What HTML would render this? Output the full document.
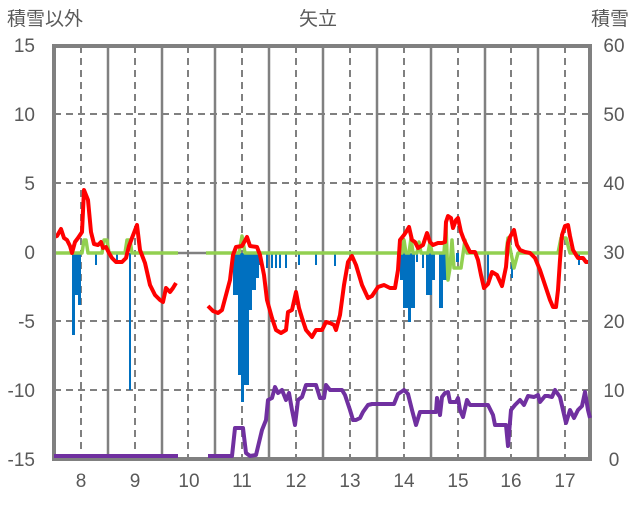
<!DOCTYPE html>
<html><head><meta charset="utf-8"><style>
body{margin:0;background:#fff;}
svg text{font-family:"Liberation Sans","Noto Sans CJK JP",sans-serif;fill:#595959;font-size:19px;}
</style></head><body>
<svg width="636" height="501" xmlns="http://www.w3.org/2000/svg">
<rect width="636" height="501" fill="#fff"/>
<g stroke="#808080" stroke-width="2" stroke-dasharray="7,5">
<line x1="54" y1="114" x2="590" y2="114"/><line x1="54" y1="183" x2="590" y2="183"/>
<line x1="54" y1="321" x2="590" y2="321"/><line x1="54" y1="390" x2="590" y2="390"/>
<line x1="81" y1="46" x2="81" y2="458"/><line x1="135" y1="46" x2="135" y2="458"/><line x1="188" y1="46" x2="188" y2="458"/><line x1="242" y1="46" x2="242" y2="458"/><line x1="296" y1="46" x2="296" y2="458"/><line x1="350" y1="46" x2="350" y2="458"/><line x1="404" y1="46" x2="404" y2="458"/><line x1="458" y1="46" x2="458" y2="458"/><line x1="511" y1="46" x2="511" y2="458"/><line x1="565" y1="46" x2="565" y2="458"/>
</g>
<g stroke="#808080" stroke-width="2.5">
<line x1="108" y1="46" x2="108" y2="458"/><line x1="162" y1="46" x2="162" y2="458"/><line x1="215" y1="46" x2="215" y2="458"/><line x1="269" y1="46" x2="269" y2="458"/><line x1="323" y1="46" x2="323" y2="458"/><line x1="377" y1="46" x2="377" y2="458"/><line x1="431" y1="46" x2="431" y2="458"/><line x1="485" y1="46" x2="485" y2="458"/><line x1="538" y1="46" x2="538" y2="458"/>
<line x1="178" y1="253" x2="206" y2="253"/>
</g>
<g fill="#0070C0">
<rect x="72" y="253" width="3" height="82"/><rect x="75" y="253" width="3" height="42"/><rect x="78" y="253" width="3" height="52"/>
<rect x="95" y="253" width="2" height="12"/><rect x="116" y="253" width="2" height="9"/><rect x="129" y="253" width="2" height="137"/>
<rect x="233" y="253" width="5" height="42"/><rect x="238" y="253" width="3" height="122"/><rect x="241" y="253" width="3" height="149"/><rect x="244" y="253" width="5" height="132"/><rect x="249" y="253" width="3" height="57"/><rect x="252" y="253" width="4" height="37"/><rect x="256" y="253" width="3" height="25"/><rect x="259" y="253" width="3" height="12"/>
<rect x="266" y="253" width="2" height="15"/><rect x="271" y="253" width="2" height="15"/><rect x="275" y="253" width="2" height="15"/><rect x="279" y="253" width="2" height="15"/><rect x="285" y="253" width="2" height="15"/><rect x="298" y="253" width="2" height="12"/><rect x="315" y="253" width="2" height="12"/><rect x="334" y="253" width="2" height="13"/>
<rect x="397" y="253" width="3" height="15"/><rect x="400" y="253" width="3" height="27"/><rect x="403" y="253" width="5" height="55"/><rect x="408" y="253" width="3" height="69"/><rect x="411" y="253" width="4" height="55"/><rect x="416" y="253" width="2" height="9"/><rect x="422" y="253" width="2" height="15"/><rect x="426" y="253" width="6" height="42"/><rect x="432" y="253" width="3" height="27"/><rect x="439" y="253" width="4" height="55"/><rect x="443" y="253" width="4" height="27"/><rect x="451" y="253" width="2" height="9"/><rect x="456" y="253" width="3" height="9"/><rect x="487" y="253" width="2" height="27"/><rect x="511" y="253" width="2" height="25"/><rect x="578" y="253" width="2" height="12"/>
</g>
<g fill="none" stroke-width="3.5" stroke-linejoin="round">
<polyline stroke="#92D050" points="54,253 82,253 84,240 86,240 88,253 102,253 104,240 107,240 109,253 125,253 127,240 130,240 132,253 178,253"/>
<polyline stroke="#92D050" points="206,253 239,253 242,236 245,253 402,253 404,240 406,253 409,253 411,238 413,253 417,253 419,242 421,253 428,253 430,242 432,253 444,253 446,226 448,280 450,268 452,240 454,268 461,268 465,240 467,253 506,253 508,238 511,253 514,268 518,253 558,253 561,238 566,238 570,253 590,253"/>
<polyline stroke="#FF0000" stroke-width="4" points="54,237 57,236 61,229 64,238 67,240 70,246 72,253 75,242 78,238 82,232 84,190 88,200 91,232 94,244 98,245 101,242 103,248 106,247 109,253 112,258 116,262 122,262 126,258 129,246 132,238 137,225 140,250 145,263 150,285 155,295 160,300 163,302 166,288 170,292 173,288 176,283"/>
<polyline stroke="#FF0000" stroke-width="4" points="208,306 213,311 218,313 222,310 226,295 230,280 233,255 236,247 242,246 247,237 250,246 257,247 260,255 264,275 267,300 272,318 276,330 281,333 286,330 288,312 292,310 296,292 299,308 302,318 306,330 312,337 316,330 322,330 326,322 330,323 334,325 336,330 340,315 344,285 348,262 352,256 356,265 362,285 368,298 372,296 378,287 384,285 390,288 395,288 398,270 400,240 404,235 406,232 409,227 412,240 415,242 418,248 423,245 427,233 430,242 433,245 438,243 442,243 445,242 446,222 448,216 451,218 453,228 456,220 458,218 461,232 464,240 468,248 470,252 475,252 478,260 481,275 484,288 488,284 492,272 497,275 502,286 506,267 508,243 510,237 514,230 517,245 520,250 525,252 530,253 535,258 540,270 545,285 550,300 553,307 556,307 558,290 560,260 562,235 565,226 568,225 570,236 573,250 578,258 583,258 586,262 590,262"/>
</g>
<rect x="54" y="46" width="536" height="413" fill="none" stroke="#808080" stroke-width="4"/>
<g fill="none" stroke-linejoin="round">
<polyline stroke="#7030A0" stroke-width="4" points="54,456 178,456"/>
<polyline stroke="#7030A0" stroke-width="4" points="208,456 232,456 235,428 243,428 246,453 250,456 256,455 262,430 266,420 268,400 272,398 275,387 278,393 282,390 286,400 289,393 292,410 295,425 298,400 302,397 306,385 316,385 320,398 324,398 326,385 330,390 342,390 345,395 350,410 353,420 356,420 360,418 363,412 368,405 372,404 394,404 398,394 404,390 408,394 412,410 416,425 420,412 436,412 437,398 440,415 442,397 445,393 448,392 450,402 456,402 458,398 460,410 463,417 467,400 470,405 488,405 493,415 495,425 506,425 508,446 511,410 515,405 520,400 524,405 528,396 534,397 538,395 540,402 545,396 548,396 552,397 555,390 560,397 563,410 566,423 570,410 574,418 578,410 582,406 585,392 588,410 590,418"/>
</g>
<g text-anchor="end">
<text x="35" y="52">15</text><text x="35" y="121">10</text><text x="35" y="190">5</text><text x="35" y="259">0</text><text x="35" y="328">-5</text><text x="35" y="397">-10</text><text x="35" y="466">-15</text>
</g>
<g text-anchor="middle">
<text x="614" y="52">60</text><text x="614" y="121">50</text><text x="614" y="190">40</text><text x="614" y="259">30</text><text x="614" y="328">20</text><text x="614" y="397">10</text><text x="614" y="466">0</text>
<text x="81" y="487">8</text><text x="135" y="487">9</text><text x="189" y="487">10</text><text x="242" y="487">11</text><text x="296" y="487">12</text><text x="350" y="487">13</text><text x="404" y="487">14</text><text x="458" y="487">15</text><text x="511" y="487">16</text><text x="565" y="487">17</text>
<text x="45" y="25">積雪以外</text><text x="318" y="25">矢立</text><text x="610" y="25">積雪</text>
</g>
</svg>
</body></html>
